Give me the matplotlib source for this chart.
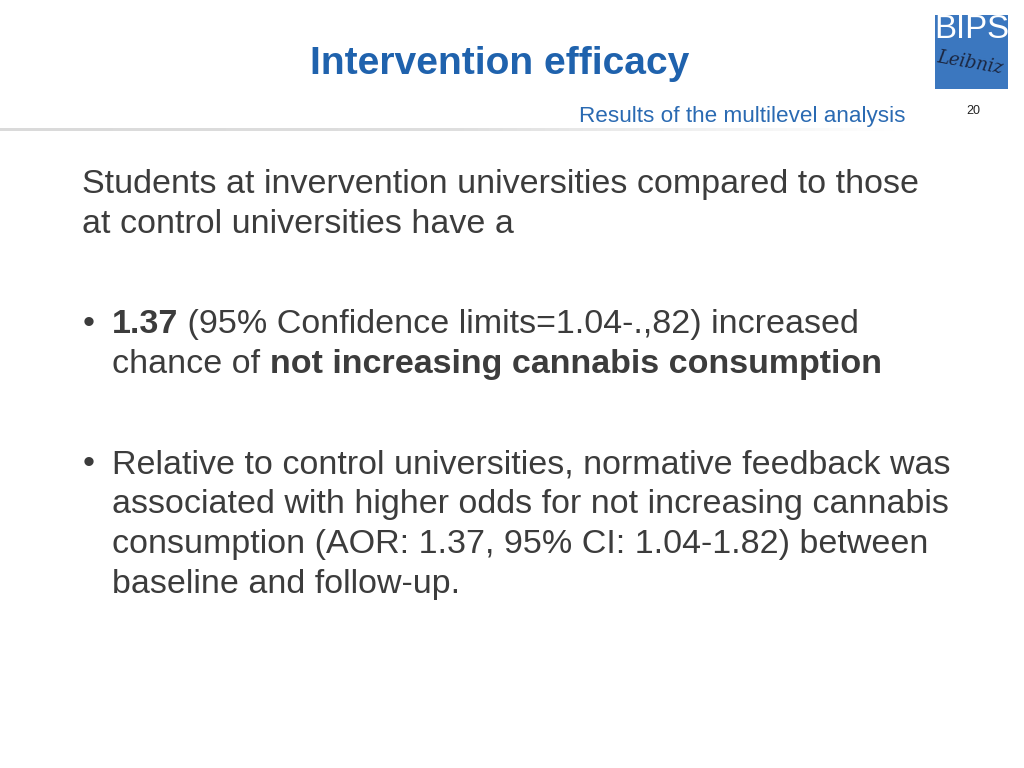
import numpy as np
import matplotlib.pyplot as plt
from matplotlib.patches import Rectangle
from matplotlib.colors import LinearSegmentedColormap

# slide content
title = "Intervention efficacy"
subtitle = "Results of the multilevel analysis"
page_no = "20"
intro_lines = [
    "Students at invervention universities compared to those",
    "at control universities have a",
]
# each line is a list of (text, bold) runs
bullet1_lines = [
    [("1.37", True), (" (95% Confidence limits=1.04-.,82) increased", False)],
    [("chance of ", False), ("not increasing cannabis consumption", True)],
]
bullet2_lines = [
    [("Relative to control universities, normative feedback was", False)],
    [("associated with higher odds for not increasing cannabis", False)],
    [("consumption (AOR: 1.37, 95% CI: 1.04-1.82) between", False)],
    [("baseline and follow-up.", False)],
]

W, H = 1024, 768
FONT = "Liberation Sans"
BLUE = "#1f62ad"
TXT = "#3c3c3c"
px = 0.72  # pixel -> point at dpi 100
BODY = 34 * px

fig = plt.figure(figsize=(W / 100, H / 100), dpi=100)
ax = fig.add_axes([0, 0, 1, 1])

# header
ax.text(310, 74, title, fontsize=39 * px, fontweight="bold", color=BLUE,
        family=FONT, va="baseline")
ax.text(579, 122, subtitle, fontsize=22.5 * px, color="#2a6ab2",
        family=FONT, va="baseline")
ax.text(966, 114, page_no, fontsize=12.5 * px, color="#222222",
        family=FONT, va="baseline")

# gray separator fading to the right
cmap = LinearSegmentedColormap.from_list(
    "sep", [(0, "#dadada"), (0.5, "#dedede"), (0.8, "#f2f2f2"), (1, "#ffffff")])
grad = np.linspace(0, 1, 256).reshape(1, -1)
ax.imshow(grad, extent=(0, 900, 131, 128), cmap=cmap, aspect="auto", zorder=1)

ax.set_xlim(0, W)
ax.set_ylim(H, 0)
ax.axis("off")

# logo
logo = Rectangle((935, 15), 73, 74, facecolor="#3b77bf", edgecolor="none")
ax.add_patch(logo)
t = ax.text(971.5, 38, "BIPS", fontsize=33 * px, color="white", family=FONT,
            ha="center", va="baseline")
t.set_clip_path(logo)
ax.text(970, 63, "Leibniz", fontsize=18 * px, color="#1b2640", family="DejaVu Serif",
        style="italic", ha="center", va="center", rotation=-10)

fig.canvas.draw()
renderer = fig.canvas.get_renderer()


def width_of(s, bold):
    w = "bold" if bold else "normal"
    tt = ax.text(0, 0, "|" + s + "|", fontsize=BODY, family=FONT, fontweight=w)
    tb = ax.text(0, 0, "||", fontsize=BODY, family=FONT, fontweight=w)
    out = tt.get_window_extent(renderer).width - tb.get_window_extent(renderer).width
    tt.remove()
    tb.remove()
    return out


def draw_runs(x, y, runs):
    for s, bold in runs:
        ax.text(x, y, s, fontsize=BODY, family=FONT, color=TXT,
                fontweight="bold" if bold else "normal", va="baseline")
        x += width_of(s, bold)


y = 193
for line in intro_lines:
    ax.text(82, y, line, fontsize=BODY, family=FONT, color=TXT, va="baseline")
    y += 40

for lines, y0 in [(bullet1_lines, 333), (bullet2_lines, 473)]:
    ax.text(83, y0, "\u2022", fontsize=BODY, family=FONT, color=TXT, va="baseline")
    for i, runs in enumerate(lines):
        draw_runs(112, y0 + 40 * i, runs)

fig.savefig("out.png", dpi=100)
